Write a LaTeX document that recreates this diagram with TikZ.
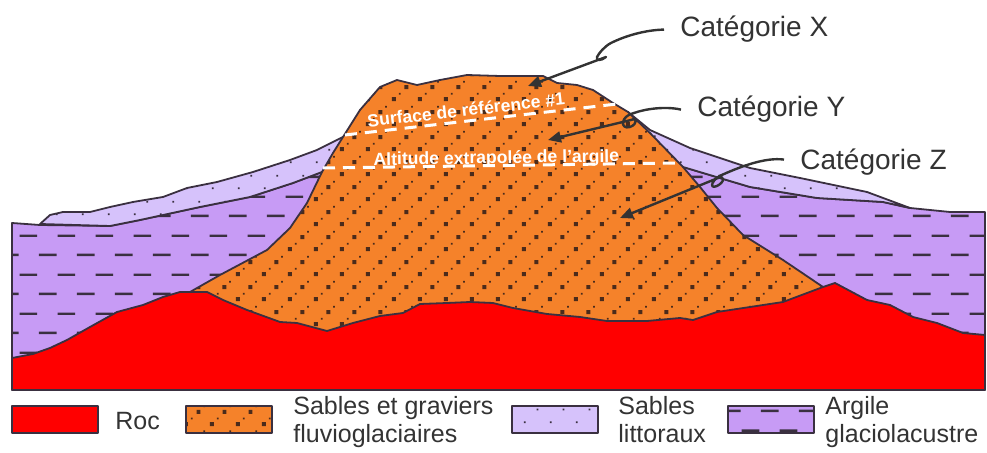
\documentclass[tikz,border=0pt]{standalone}
\usepackage{fontspec}
\setmainfont{Liberation Sans}
\usetikzlibrary{arrows.meta,patterns}

\definecolor{roc}{HTML}{FF0000}
\definecolor{gravier}{HTML}{F5822A}
\definecolor{grain}{HTML}{4B2B1B}
\definecolor{littoral}{HTML}{D6C2FB}
\definecolor{argile}{HTML}{C79BF5}
\definecolor{contour}{HTML}{3A3040}
\definecolor{texte}{HTML}{333333}

\pgfdeclarepatternformonly{graviers}{\pgfpointorigin}{\pgfqpoint{13pt}{12.5pt}}{\pgfqpoint{13pt}{12.5pt}}{
  \pgfpathrectangle{\pgfqpoint{1pt}{1pt}}{\pgfqpoint{2pt}{2pt}}
  \pgfpathrectangle{\pgfqpoint{7.5pt}{7.25pt}}{\pgfqpoint{2pt}{2pt}}
  \pgfpathrectangle{\pgfqpoint{4.6pt}{4.4pt}}{\pgfqpoint{.9pt}{.9pt}}
  \pgfpathrectangle{\pgfqpoint{11pt}{10.6pt}}{\pgfqpoint{.9pt}{.9pt}}
  \pgfusepath{fill}}
\pgfdeclarepatternformonly{sable}{\pgfpointorigin}{\pgfqpoint{13pt}{13pt}}{\pgfqpoint{13pt}{13pt}}{
  \pgfpathrectangle{\pgfqpoint{2pt}{2pt}}{\pgfqpoint{.9pt}{.9pt}}
  \pgfpathrectangle{\pgfqpoint{8.5pt}{8.5pt}}{\pgfqpoint{.9pt}{.9pt}}
  \pgfusepath{fill}}
\pgfdeclarepatternformonly{tirets}{\pgfpointorigin}{\pgfqpoint{19pt}{19.5pt}}{\pgfqpoint{19pt}{19.5pt}}{
  \pgfpathrectangle{\pgfqpoint{.5pt}{1pt}}{\pgfqpoint{9pt}{1.25pt}}
  \pgfpathrectangle{\pgfqpoint{10pt}{10.75pt}}{\pgfqpoint{9pt}{1.25pt}}
  \pgfusepath{fill}}

\begin{document}
\begin{tikzpicture}[
  x=0.5pt, y=-0.5pt,
  >={Triangle[length=6.5pt,width=5.5pt]},
  couche/.style={draw=contour, line width=0.9pt, line join=round},
  coucheRoc/.style={couche, fill=roc},
  coucheGravier/.style={couche, preaction={fill=gravier}, pattern=graviers, pattern color=grain},
  coucheLittoral/.style={couche, preaction={fill=littoral}, pattern=sable, pattern color=contour},
  coucheArgile/.style={couche, preaction={fill=argile}, pattern=tirets, pattern color=contour},
  repere/.style={white, line width=1.5pt, dash pattern=on 6pt off 4pt},
  surface/.style={text=white, font=\fontsize{8.8}{9}\selectfont\bfseries, inner sep=0pt},
  etiquette/.style={text=texte, font=\fontsize{14}{14}\selectfont, inner sep=0pt},
  legende/.style={text=texte, font=\fontsize{12.5}{14}\selectfont, inner sep=0pt},
  fleche/.style={->, draw=texte, line width=1.2pt, line join=round},
  cle/.style={couche, rectangle, minimum width=43pt, minimum height=13.5pt, inner sep=0pt}
]
  \useasboundingbox (0,0) rectangle (987,453);

  \draw[coucheArgile] (12,223) -- (40,225) -- (110,226) -- (140,220) -- (200,207) -- (250,197)
    -- (293,183) -- (322,172) -- (683,167) -- (750,187) -- (817,198) -- (883,202) -- (910,208)
    -- (950,212) -- (985,212) -- (985,390) -- (12,390) -- cycle;

  \draw[coucheLittoral] (40,224) -- (50,215) -- (63,212) -- (90,212) -- (110,207) -- (133,202)
    -- (163,197) -- (187,188) -- (217,182) -- (253,172) -- (290,160) -- (317,150) -- (343,137)
    -- (628,112) -- (650,130) -- (690,148) -- (750,168) -- (800,178) -- (867,192) -- (910,208)
    -- (883,202) -- (817,198) -- (750,187) -- (683,167) -- (322,172) -- (293,183) -- (250,197)
    -- (200,207) -- (140,220) -- (110,226) -- cycle;

  \draw[coucheGravier] (190,292) -- (220,275) -- (267,250) -- (290,228) -- (307,203) -- (322,172)
    -- (333,153) -- (343,137) -- (360,110) -- (380,87) -- (397,80) -- (417,85) -- (440,80)
    -- (467,75) -- (500,76) -- (543,76) -- (557,83) -- (577,85) -- (593,90) -- (613,103)
    -- (628,112) -- (650,133) -- (683,167) -- (700,187) -- (717,208) -- (743,235) -- (783,260)
    -- (823,287) -- (823,340) -- (190,340) -- cycle;

  \draw[coucheRoc] (12,358) -- (33,354) -- (50,348) -- (67,340) -- (90,327) -- (117,312)
    -- (143,305) -- (163,297) -- (180,292) -- (207,292) -- (223,300) -- (247,310) -- (280,322)
    -- (297,323) -- (327,331) -- (353,323) -- (380,316) -- (403,313) -- (420,304) -- (447,303)
    -- (470,302) -- (493,303) -- (513,308) -- (547,314) -- (580,317) -- (607,321) -- (647,321)
    -- (680,318) -- (693,320) -- (717,312) -- (783,302) -- (823,287) -- (835,283) -- (867,300)
    -- (890,305) -- (913,317) -- (937,323) -- (963,333) -- (985,335) -- (985,390) -- (12,390) -- cycle;

  \coordinate (s1) at (345,135);
  \coordinate (s2) at (617,104);
  \coordinate (a1) at (323,168);
  \coordinate (a2) at (677,163);
  \draw[repere] (s1) -- (s2)
    node[surface, pos=.45, sloped, anchor=base, yshift=2.5pt] (refS) {Surface de référence \#1};
  \draw[repere] (a1) -- (a2)
    node[surface, pos=.49, sloped, anchor=base, yshift=1pt] (refA) {Altitude extrapolée de l’argile};

  \node[etiquette, anchor=base west, inner xsep=8pt] (catX) at (664,37) {Catégorie X};
  \node[etiquette, anchor=base west, inner xsep=8pt] (catY) at (681,117) {Catégorie Y};
  \node[etiquette, anchor=base west, inner xsep=8pt] (catZ) at (784,170) {Catégorie Z};

  \coordinate (pX) at (528,86);
  \coordinate (pY) at (548,140);
  \coordinate (pZ) at (620,218);

  \draw[fleche] (catX.west) .. controls (645,30) and (625,36) .. (611,43)
    .. controls (605,46) and (599,53) .. (597,57) .. controls (596,61) and (601,61) .. (606,57) -- (pX);
  \draw[fleche] (catY.west) .. controls (665,106) and (645,109) .. (634,113)
    .. controls (620,116) and (620,130) .. (630,127) .. controls (638,124) and (637,117) .. (631,120) -- (pY);
  \draw[fleche] ([yshift=1.5pt]catZ.west) .. controls (765,157) and (740,167) .. (724,174)
    .. controls (712,178) and (708,190) .. (717,186) .. controls (725,182) and (725,175) .. (718,178) -- (pZ);

  \node[cle, fill=roc] (cRoc) at (55,419.5) {};
  \node[cle, coucheGravier] (cGravier) at (229,419.5) {};
  \node[cle, coucheLittoral] (cLittoral) at (555,419.5) {};
  \node[cle, coucheArgile] (cArgile) at (771,419.5) {};

  \node[legende, anchor=west] (tRoc) at (115,421) {Roc};
  \node[legende, anchor=base west, align=left] (tGravier) at (293,443) {Sables et graviers\\fluvioglaciaires};
  \node[legende, anchor=base west, align=left] (tLittoral) at (618,443) {Sables\\littoraux};
  \node[legende, anchor=base west, align=left] (tArgile) at (825,443) {Argile\\glaciolacustre};
\end{tikzpicture}
\end{document}
